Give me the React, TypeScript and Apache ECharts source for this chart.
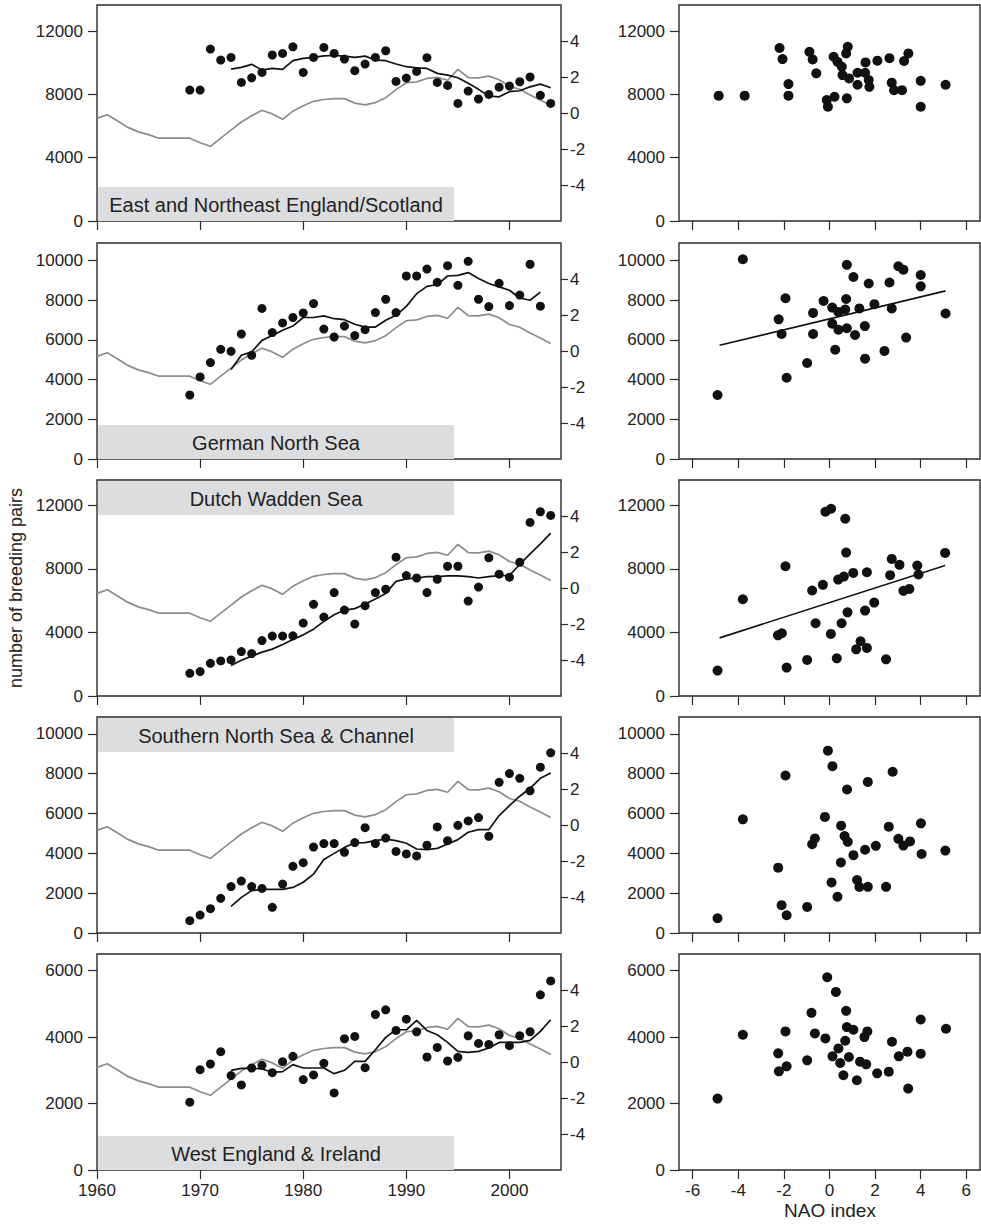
import React, { useEffect, useRef } from "react";
import * as echarts from "echarts";

// ---------- data ----------
const regionNames = [
  "East and Northeast England/Scotland",
  "German North Sea",
  "Dutch Wadden Sea",
  "Southern North Sea & Channel",
  "West England & Ireland",
];

// smoothed winter NAO index, 1960-2004 (grey line, right axis)
const naoStart = 1960;
const naoSmooth = [
  -0.3, -0.1, -0.45, -0.8, -1.05, -1.2, -1.4, -1.4, -1.4, -1.4,
  -1.65, -1.85, -1.4, -0.95, -0.5, -0.15, 0.15, -0.05, -0.35, 0.1,
  0.4, 0.65, 0.75, 0.8, 0.8, 0.55, 0.45, 0.58, 0.85, 1.3,
  1.68, 1.73, 1.92, 1.98, 1.82, 2.42, 1.97, 1.95, 2.05, 1.85,
  1.47, 1.32, 1.0, 0.72, 0.42,
];

// breeding pairs per year, starting 1969
const countStart = 1969;
const pairsEast = [8275, 8275, 10865, 10170, 10340, 8760, 9050, 9390, 10490, 10590, 11010, 9390, 10340, 10970, 10590, 10230, 9500, 9920, 10340, 10760, 8820, 9030, 9450, 10320, 8760, 8570, 7430, 8210, 7710, 8000, 8460, 8530, 8800, 9100, 7940, 7430];
const pairsGerman = [3220, 4130, 4850, 5520, 5420, 6290, 5220, 7580, 6360, 6850, 7120, 7350, 7820, 6540, 6140, 6690, 6210, 6510, 7370, 8040, 7370, 9210, 9210, 9560, 8890, 9730, 8740, 9950, 8040, 7670, 8840, 7720, 8250, 9800, 7690];
const pairsDutch = [1430, 1540, 2060, 2210, 2270, 2800, 2670, 3490, 3770, 3770, 3790, 4590, 5770, 4970, 6510, 5410, 4530, 5690, 6510, 6720, 8740, 7580, 7430, 6510, 7350, 8170, 8170, 5980, 6860, 8700, 7670, 7480, 8420, 10930, 11600, 11370];
const pairsSouth = [620, 900, 1220, 1740, 2330, 2610, 2330, 2240, 1290, 2460, 3350, 3530, 4320, 4490, 4490, 4050, 4540, 5290, 4490, 4770, 4100, 3970, 3870, 4410, 5330, 4640, 5410, 5630, 5800, 4860, 7570, 8010, 7770, 7140, 8330, 9050];
const pairsWest = [2040, 3020, 3190, 3560, 2840, 2560, 3070, 3150, 2930, 3260, 3420, 2720, 2860, 3210, 2320, 3950, 4020, 3080, 4680, 4820, 4200, 4540, 4160, 3400, 3690, 3280, 3390, 4040, 3810, 3780, 4070, 3740, 4040, 4160, 5270, 5690];

// running means, starting 1973
const avgStart = 1973;
const avgEast = [9600, 9710, 9900, 9540, 9640, 9580, 10130, 10280, 10340, 10440, 10460, 10420, 10340, 10420, 10170, 10130, 9920, 9750, 9680, 9640, 9330, 9220, 9050, 8700, 8320, 7900, 7850, 8170, 8230, 8480, 8650, 8420];
const avgGerman = [4500, 5220, 5390, 5970, 6220, 6480, 6690, 7120, 7120, 7200, 7060, 7010, 6780, 6640, 6640, 6980, 7230, 7680, 8320, 8690, 8780, 9210, 9240, 9380, 9080, 8830, 8660, 8490, 8100, 7990, 8400];
const avgDutch = [1920, 2250, 2510, 2760, 2950, 3240, 3560, 3850, 4210, 4700, 5120, 5410, 5500, 5790, 6110, 6460, 7220, 7370, 7430, 7520, 7520, 7560, 7560, 7520, 7430, 7520, 7580, 7600, 8280, 8950, 9580, 10250];
const avgSouth = [1340, 1790, 2130, 2190, 2190, 2190, 2290, 2550, 2960, 3690, 4000, 4300, 4520, 4540, 4640, 4720, 4640, 4510, 4220, 4190, 4250, 4470, 4690, 5060, 5190, 5190, 5900, 6400, 6870, 7270, 7770, 8040];
const avgWest = [3000, 3060, 3060, 3040, 2940, 2960, 3170, 3070, 3070, 3070, 2900, 3000, 3270, 3270, 3620, 3990, 4220, 4220, 4500, 4200, 4070, 3840, 3570, 3540, 3570, 3670, 3840, 3840, 3840, 3900, 4170, 4520];

// scatter: [NAO index, breeding pairs]
const scatterEast = [[-4.86, 7920], [-3.72, 7920], [-2.19, 10930], [-2.06, 10230], [-1.8, 8650], [-1.8, 7920], [-0.88, 10690], [-0.74, 10210], [-0.58, 9330], [-0.12, 7640], [-0.07, 7220], [0.18, 10380], [0.22, 7850], [0.35, 10060], [0.54, 9750], [0.57, 9220], [0.73, 10590], [0.8, 11010], [0.76, 7750], [0.86, 9010], [1.23, 9370], [1.23, 8610], [1.56, 9370], [1.58, 10020], [1.72, 8910], [1.75, 8480], [2.1, 10130], [2.63, 10290], [2.73, 8740], [2.83, 8270], [3.18, 8270], [3.27, 10110], [3.46, 10590], [4.0, 8860], [4.0, 7220], [5.09, 8610]];
const scatterGerman = [[-4.91, 3220], [-3.8, 10050], [-2.23, 7030], [-2.1, 6290], [-1.93, 8090], [-1.88, 4090], [-0.98, 4830], [-0.72, 7350], [-0.72, 6290], [-0.26, 7950], [0.12, 7620], [0.12, 6810], [0.25, 5500], [0.39, 6510], [0.39, 7400], [0.69, 7520], [0.73, 8050], [0.76, 9770], [0.76, 6580], [1.05, 9160], [1.12, 6240], [1.31, 7580], [1.55, 6690], [1.56, 5050], [1.72, 8830], [1.97, 7790], [2.41, 5440], [2.63, 8880], [2.73, 7580], [3.02, 9700], [3.24, 9530], [3.36, 6110], [4.0, 9260], [4.0, 8690], [5.09, 7320]];
const scatterDutch = [[-4.91, 1600], [-3.8, 6090], [-2.26, 3820], [-2.09, 3950], [-1.93, 8170], [-1.88, 1790], [-0.98, 2270], [-0.76, 6640], [-0.61, 4580], [-0.29, 7000], [-0.18, 11600], [0.07, 11790], [0.06, 3910], [0.32, 2370], [0.38, 7330], [0.53, 4580], [0.63, 7520], [0.69, 11160], [0.73, 9030], [0.79, 5270], [1.04, 7750], [1.17, 2940], [1.36, 3450], [1.56, 5380], [1.64, 3030], [1.64, 7790], [1.96, 5880], [2.48, 2310], [2.66, 7610], [2.73, 8630], [3.07, 8260], [3.24, 6620], [3.5, 6740], [3.85, 8210], [3.9, 7650], [5.07, 9010]];
const scatterSouth = [[-4.91, 740], [-3.8, 5710], [-2.25, 3280], [-2.1, 1400], [-1.93, 7910], [-1.88, 890], [-0.98, 1310], [-0.76, 4460], [-0.64, 4750], [-0.2, 5830], [-0.07, 9160], [0.13, 8380], [0.09, 2540], [0.35, 1820], [0.5, 3540], [0.51, 5390], [0.66, 4870], [0.77, 7210], [0.8, 4580], [1.05, 3910], [1.21, 2660], [1.31, 2310], [1.56, 4180], [1.68, 7590], [1.68, 2320], [2.03, 4380], [2.48, 2320], [2.6, 5340], [2.77, 8100], [3.02, 4730], [3.24, 4390], [3.53, 4600], [4.01, 5510], [4.04, 3970], [5.08, 4140]];
const scatterWest = [[-4.91, 2150], [-3.8, 4070], [-2.25, 3510], [-2.22, 2970], [-1.93, 4170], [-1.88, 3120], [-0.98, 3300], [-0.79, 4730], [-0.64, 4110], [-0.18, 3960], [-0.1, 5800], [0.13, 3420], [0.28, 5360], [0.39, 3660], [0.47, 3220], [0.61, 2850], [0.69, 3890], [0.73, 4790], [0.76, 4300], [0.85, 3400], [1.05, 4220], [1.2, 2700], [1.34, 3260], [1.53, 4000], [1.61, 3180], [1.66, 4170], [2.09, 2910], [2.6, 2960], [2.74, 3860], [3.04, 3420], [3.42, 3560], [3.45, 2450], [4.0, 4530], [4.0, 3500], [5.11, 4250]];

// fitted regression lines (endpoints) for the significant panels
const regGerman = [[-4.82, 5720], [5.09, 8460]];
const regDutch = [[-4.82, 3660], [5.07, 8210]];

// axes
const yMaxes = [13650, 10870, 13600, 10850, 6500];
const yTicks = [
  [0, 4000, 8000, 12000],
  [0, 2000, 4000, 6000, 8000, 10000],
  [0, 4000, 8000, 12000],
  [0, 2000, 4000, 6000, 8000, 10000],
  [0, 2000, 4000, 6000],
];
const naoTicks = [-4, -2, 0, 2, 4];
const yearTicks = [1960, 1970, 1980, 1990, 2000];
const scatterXTicks = [-6, -4, -2, 0, 2, 4, 6];

const pairsAll = [pairsEast, pairsGerman, pairsDutch, pairsSouth, pairsWest];
const avgAll = [avgEast, avgGerman, avgDutch, avgSouth, avgWest];
const scatterAll = [scatterEast, scatterGerman, scatterDutch, scatterSouth, scatterWest];
const regAll: (number[][] | null)[] = [null, regGerman, regDutch, null, null];

// ---------- layout ----------
const FONT = '"Liberation Sans", Arial, Helvetica, sans-serif';
const TXT = "#222";
const AX = "#2a2a2a";
const DOT = "#111";
const TOPS = [5, 243, 480, 717, 954];
const PH = 216;
const LEFT_X = 97;
const LEFT_W = 464;
const RIGHT_X = 679;
const RIGHT_W = 301;
const LABEL_AT_TOP = [false, false, true, true, false];

const plain = (v: number) => String(v);

function buildOption() {
  const grid: any[] = [];
  const xAxis: any[] = [];
  const yAxis: any[] = [];
  const series: any[] = [];
  const graphic: any[] = [];

  const tickStyle = { color: AX, width: 1.2 };
  const labelBase = { fontSize: 17, color: TXT, fontFamily: FONT, formatter: plain };

  for (let i = 0; i < 5; i++) {
    grid.push({ left: LEFT_X, top: TOPS[i], width: LEFT_W, height: PH, show: true, borderColor: AX, borderWidth: 1.4, backgroundColor: "transparent" });
  }
  for (let i = 0; i < 5; i++) {
    grid.push({ left: RIGHT_X, top: TOPS[i], width: RIGHT_W, height: PH, show: true, borderColor: AX, borderWidth: 1.4, backgroundColor: "transparent" });
  }

  // left panels
  for (let i = 0; i < 5; i++) {
    const last = i === 4;
    xAxis.push({
      type: "value", gridIndex: i, min: 1960, max: 2005,
      axisLine: { show: false, onZero: false },
      axisTick: { show: true, length: 9, customValues: yearTicks, lineStyle: tickStyle },
      axisLabel: { show: last, customValues: yearTicks, margin: 12, ...labelBase },
      splitLine: { show: false },
    });
    yAxis.push({
      type: "value", gridIndex: i, min: 0, max: yMaxes[i], position: "left",
      axisLine: { show: false, onZero: false },
      axisTick: { show: true, length: 9, customValues: yTicks[i], lineStyle: tickStyle },
      axisLabel: { customValues: yTicks[i], margin: 14, ...labelBase },
      splitLine: { show: false },
    });
    yAxis.push({
      type: "value", gridIndex: i, min: -6, max: 6, position: "right",
      axisLine: { show: false, onZero: false },
      axisTick: { show: true, length: 7, customValues: naoTicks, lineStyle: tickStyle },
      axisLabel: { customValues: naoTicks, margin: 9, ...labelBase },
      splitLine: { show: false },
    });
  }
  // right panels
  for (let i = 0; i < 5; i++) {
    const last = i === 4;
    xAxis.push({
      type: "value", gridIndex: 5 + i, min: -6.6, max: 6.6,
      axisLine: { show: false, onZero: false },
      axisTick: { show: true, length: 9, customValues: scatterXTicks, lineStyle: tickStyle },
      axisLabel: { show: last, customValues: scatterXTicks, margin: 12, ...labelBase },
      splitLine: { show: false },
    });
    yAxis.push({
      type: "value", gridIndex: 5 + i, min: 0, max: yMaxes[i], position: "left",
      axisLine: { show: false, onZero: false },
      axisTick: { show: true, length: 9, customValues: yTicks[i], lineStyle: tickStyle },
      axisLabel: { customValues: yTicks[i], margin: 14, ...labelBase },
      splitLine: { show: false },
    });
  }

  for (let i = 0; i < 5; i++) {
    series.push({
      type: "line", xAxisIndex: i, yAxisIndex: 2 * i + 1,
      data: naoSmooth.map((v, k) => [naoStart + k, v]),
      symbol: "none", lineStyle: { color: "#8c8c8c", width: 1.7 }, z: 2, silent: true,
    });
    series.push({
      type: "line", xAxisIndex: i, yAxisIndex: 2 * i,
      data: avgAll[i].map((v, k) => [avgStart + k, v]),
      symbol: "none", lineStyle: { color: "#111", width: 1.7 }, z: 3, silent: true,
    });
    series.push({
      type: "scatter", xAxisIndex: i, yAxisIndex: 2 * i,
      data: pairsAll[i].map((v, k) => [countStart + k, v]),
      symbolSize: 9, itemStyle: { color: DOT, opacity: 1 }, z: 4, silent: true,
    });
    series.push({
      type: "scatter", xAxisIndex: 5 + i, yAxisIndex: 10 + i,
      data: scatterAll[i],
      symbolSize: 10, itemStyle: { color: DOT, opacity: 1 }, z: 4, silent: true,
    });
    const reg = regAll[i];
    if (reg) {
      series.push({
        type: "line", xAxisIndex: 5 + i, yAxisIndex: 10 + i,
        data: reg, symbol: "none", lineStyle: { color: "#111", width: 1.6 }, z: 3, silent: true,
      });
    }

    // region label box
    const bh = 34;
    const by = LABEL_AT_TOP[i] ? TOPS[i] + 1 : TOPS[i] + PH - bh;
    graphic.push({
      type: "rect", z: 1, silent: true,
      shape: { x: LEFT_X + 1, y: by, width: 356, height: bh },
      style: { fill: "#dcdddf" },
    });
    graphic.push({
      type: "text", z: 5, silent: true,
      x: LEFT_X + 179, y: by + bh / 2 + 1,
      style: { text: regionNames[i], fontSize: 20, fontFamily: FONT, fill: TXT, textAlign: "center", textVerticalAlign: "middle" },
    });
  }

  graphic.push({
    type: "text", silent: true, x: 16, y: 588, rotation: Math.PI / 2,
    style: { text: "number of breeding pairs", fontSize: 18, fontFamily: FONT, fill: TXT, textAlign: "center", textVerticalAlign: "middle" },
  });
  graphic.push({
    type: "text", silent: true, x: 830, y: 1210,
    style: { text: "NAO index", fontSize: 19, fontFamily: FONT, fill: TXT, textAlign: "center", textVerticalAlign: "middle" },
  });

  return { animation: false, backgroundColor: "#ffffff", grid, xAxis, yAxis, series, graphic };
}

export default function App() {
  const ref = useRef<HTMLDivElement>(null);
  useEffect(() => {
    if (!ref.current) return;
    const chart = echarts.init(ref.current, undefined, { renderer: "svg" });
    chart.setOption(buildOption() as any);
    return () => chart.dispose();
  }, []);
  return (
    <div
      ref={ref}
      style={{ position: "absolute", left: 0, top: 0, width: 981, height: 1227, background: "#fff" }}
    />
  );
}
